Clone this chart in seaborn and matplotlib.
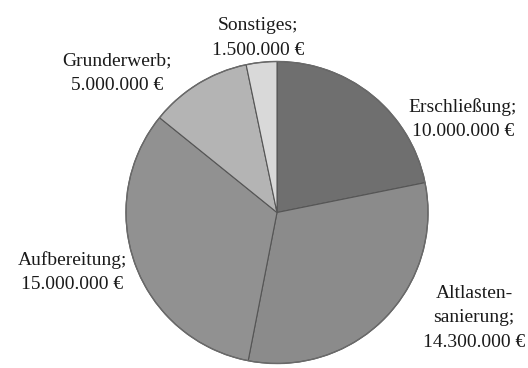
import matplotlib
matplotlib.use("Agg")
import matplotlib.pyplot as plt
import seaborn as sns

# Kostenaufteilung der Flächenentwicklung
categories = ["Erschließung", "Altlasten-\nsanierung", "Aufbereitung", "Grunderwerb", "Sonstiges"]
values = [10_000_000, 14_300_000, 15_000_000, 5_000_000, 1_500_000]
value_labels = ["10.000.000 €", "14.300.000 €", "15.000.000 €", "5.000.000 €", "1.500.000 €"]

sns.set_theme(style="white")
plt.rcParams["font.family"] = ["Liberation Serif", "DejaVu Serif"]

colors = ["#6f6f6f", "#8b8b8b", "#919191", "#b4b4b4", "#d9d9d9"]

W, H = 528, 368
fig = plt.figure(figsize=(W / 100, H / 100), dpi=100)
ax = fig.add_axes([0, 0, 1, 1])

cx, cy, r = 277, H - 212.5, 151
wedges, _ = ax.pie(
    values,
    colors=colors,
    startangle=90,
    counterclock=False,
    center=(cx, cy),
    radius=r,
    frame=True,
    wedgeprops=dict(edgecolor="#555555", linewidth=0.8),
)
ax.add_patch(plt.Circle((cx, cy), r, fill=False, edgecolor="#6a6a6a", linewidth=1.0))

# label anchors (pixel layout, y from top)
label_pos = [(463, 119), (474, 318), (72, 272), (117, 73), (258, 38)]
for name, vl, (x, y) in zip(categories, value_labels, label_pos):
    ax.text(x, H - y, f"{name};\n{vl}", ha="center", va="center",
            fontsize=14, linespacing=1.55, color="#1a1a1a")

ax.set_xlim(0, W)
ax.set_ylim(0, H)
ax.set_aspect("equal")
ax.axis("off")
fig.savefig("out.png", dpi=100)
